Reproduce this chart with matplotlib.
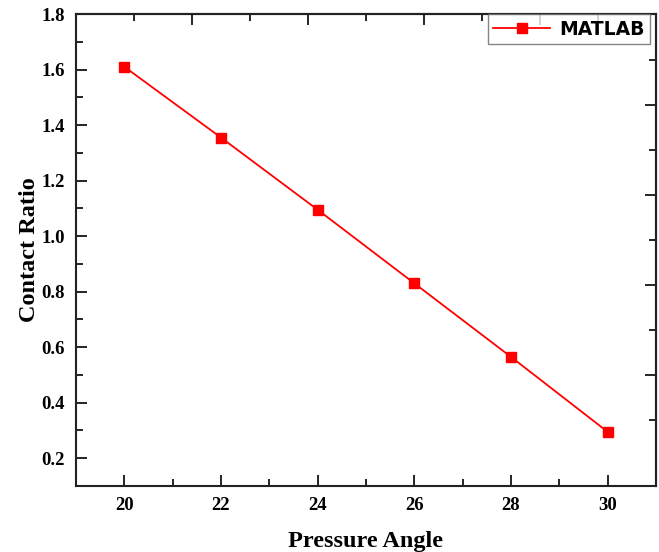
import matplotlib
matplotlib.use('Agg')
import matplotlib.pyplot as plt
from matplotlib.ticker import MultipleLocator

# Data
pressure_angle = [20, 22, 24, 26, 28, 30]
contact_ratio = [1.61, 1.355, 1.095, 0.83, 0.565, 0.295]

plt.rcParams['font.family'] = 'Liberation Serif'
plt.rcParams['font.weight'] = 'bold'

fig = plt.figure(figsize=(6.59, 5.52), dpi=100)
ax = fig.add_axes([0.1153, 0.1196, 0.8801, 0.855])

ax.plot(pressure_angle, contact_ratio, color='#ff0000', lw=1.3, marker='s',
        markersize=7, label='MATLAB')

ax.set_xlim(19, 31)
ax.set_ylim(0.1, 1.8)
ax.set_xticks([20, 22, 24, 26, 28, 30])
ax.xaxis.set_minor_locator(MultipleLocator(1))
ax.set_yticks([0.2, 0.4, 0.6, 0.8, 1.0, 1.2, 1.4, 1.6, 1.8])
ax.yaxis.set_minor_locator(MultipleLocator(0.1))
ax.tick_params(which='both', direction='in', width=1.2)
ax.tick_params(which='major', length=8, labelsize=13.5, pad=8)
ax.tick_params(which='minor', length=5)
for lab in ax.get_xticklabels() + ax.get_yticklabels():
    lab.set_fontweight('bold')
for s in ax.spines.values():
    s.set_linewidth(1.5)
    s.set_color('#222222')

# odd top / right ticks as in the original (Origin layer frame)
top = ax.secondary_xaxis('top')
top.set_xticks([21.4, 23.8, 26.2, 28.6], labels=[])
top.set_xticks([20.2, 22.6, 25.0, 27.4, 29.8], minor=True)
top.tick_params(which='both', direction='in', width=1.2)
top.tick_params(which='major', length=8)
top.tick_params(which='minor', length=5)
right = ax.secondary_yaxis('right')
right.set_yticks([1.473, 1.149, 0.824, 0.500], labels=[])
right.set_yticks([1.635, 1.311, 0.986, 0.662, 0.338], minor=True)
right.tick_params(which='both', direction='in', width=1.2)
right.tick_params(which='major', length=8)
right.tick_params(which='minor', length=5)
for sec in (top, right):
    for s in sec.spines.values():
        s.set_linewidth(1.5)
        s.set_color('#222222')

ax.set_xlabel('Pressure Angle', fontsize=17.5, fontweight='bold', labelpad=12)
ax.set_ylabel('Contact Ratio', fontsize=17.5, fontweight='bold', labelpad=1)

leg = ax.legend(loc='upper right', prop={'family': 'DejaVu Sans', 'weight': 'bold', 'size': 13.5},
                fancybox=False, edgecolor='#666666', borderaxespad=0.0, handlelength=3.0,
                borderpad=0.3, handletextpad=0.5, markerscale=1.1,
                bbox_to_anchor=(0.99, 1.0))
leg.get_frame().set_linewidth(1.0)

fig.savefig('out.png', dpi=100)
